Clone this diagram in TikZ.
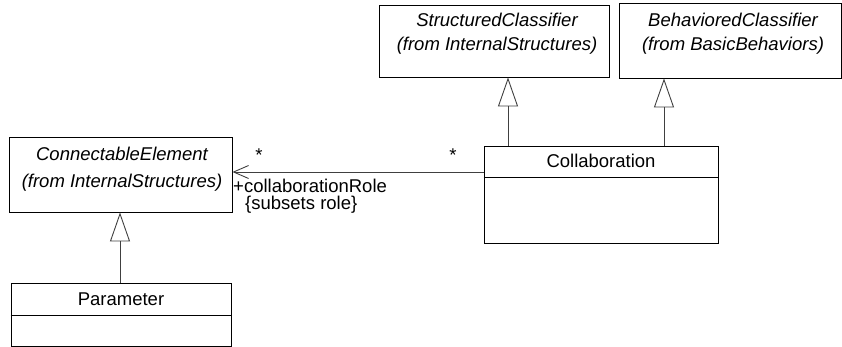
\documentclass[tikz,border=0pt]{standalone}
\usepackage{fontspec}
\setmainfont{Liberation Sans}
\usetikzlibrary{arrows.meta}
\tikzset{
  classbox/.style={draw=black, line width=0.9pt, inner sep=0pt},
  txt/.style={inner sep=0pt, anchor=base, font=\fontsize{18.5}{22}\selectfont},
  itxt/.style={txt, font=\fontsize{18.5}{22}\selectfont\itshape},
  gen/.style={draw=black!75, line width=0.9pt, -{Triangle[open, width=20pt, length=29pt, line width=0.9pt]}},
  assoc/.style={draw=black!75, line width=0.9pt, -{Straight Barb[length=15pt, width=13pt, line width=0.9pt]}},
}
\begin{document}
\begin{tikzpicture}[x=1pt, y=-1pt]
\useasboundingbox (0,0) rectangle (842,347);
% StructuredClassifier
\node[classbox, minimum width=230pt, minimum height=72pt] (sc) at (494,41) {};
\node[itxt] (sc1) at (497,27) {StructuredClassifier};
\node[itxt] (sc2) at (497,51) {(from InternalStructures)};
% BehavioredClassifier
\node[classbox, minimum width=222pt, minimum height=75pt] (bc) at (730,40.5) {};
\node[itxt] (bc1) at (733,27) {BehavioredClassifier};
\node[itxt] (bc2) at (733,51) {(from BasicBehaviors)};
% ConnectableElement
\node[classbox, minimum width=223pt, minimum height=75pt] (ce) at (120.5,174.5) {};
\node[itxt] (ce1) at (122,161) {ConnectableElement};
\node[itxt] (ce2) at (122,188) {(from InternalStructures)};
% Collaboration
\node[classbox, minimum width=234pt, minimum height=97pt] (co) at (601,194.5) {};
\draw[black, line width=0.9pt] (co.west |- 0,177) -- (co.east |- 0,177);
\node[txt] (co1) at (601,168) {Collaboration};
% Parameter
\node[classbox, minimum width=220pt, minimum height=63pt] (pa) at (121,314.5) {};
\draw[black, line width=0.9pt] (pa.west |- 0,315) -- (pa.east |- 0,315);
\node[txt] (pa1) at (121,305) {Parameter};
% generalizations
\draw[gen] (co.north -| 508,0) -- (sc.south -| 508,0);
\draw[gen] (co.north -| 664,0) -- (bc.south -| 664,0);
\draw[gen] (pa.north -| 120,0) -- (ce.south -| 120,0);
% association
\draw[assoc] (co.west |- 0,172) -- (ce.east |- 0,172);
\node[txt] (m1) at (259,162) {*};
\node[txt] (m2) at (453,162) {*};
\node[txt, anchor=base west] (r1) at (233,193) {+collaborationRole};
\node[txt, anchor=base west] (r2) at (245,210) {\{subsets role\}};
\end{tikzpicture}
\end{document}
